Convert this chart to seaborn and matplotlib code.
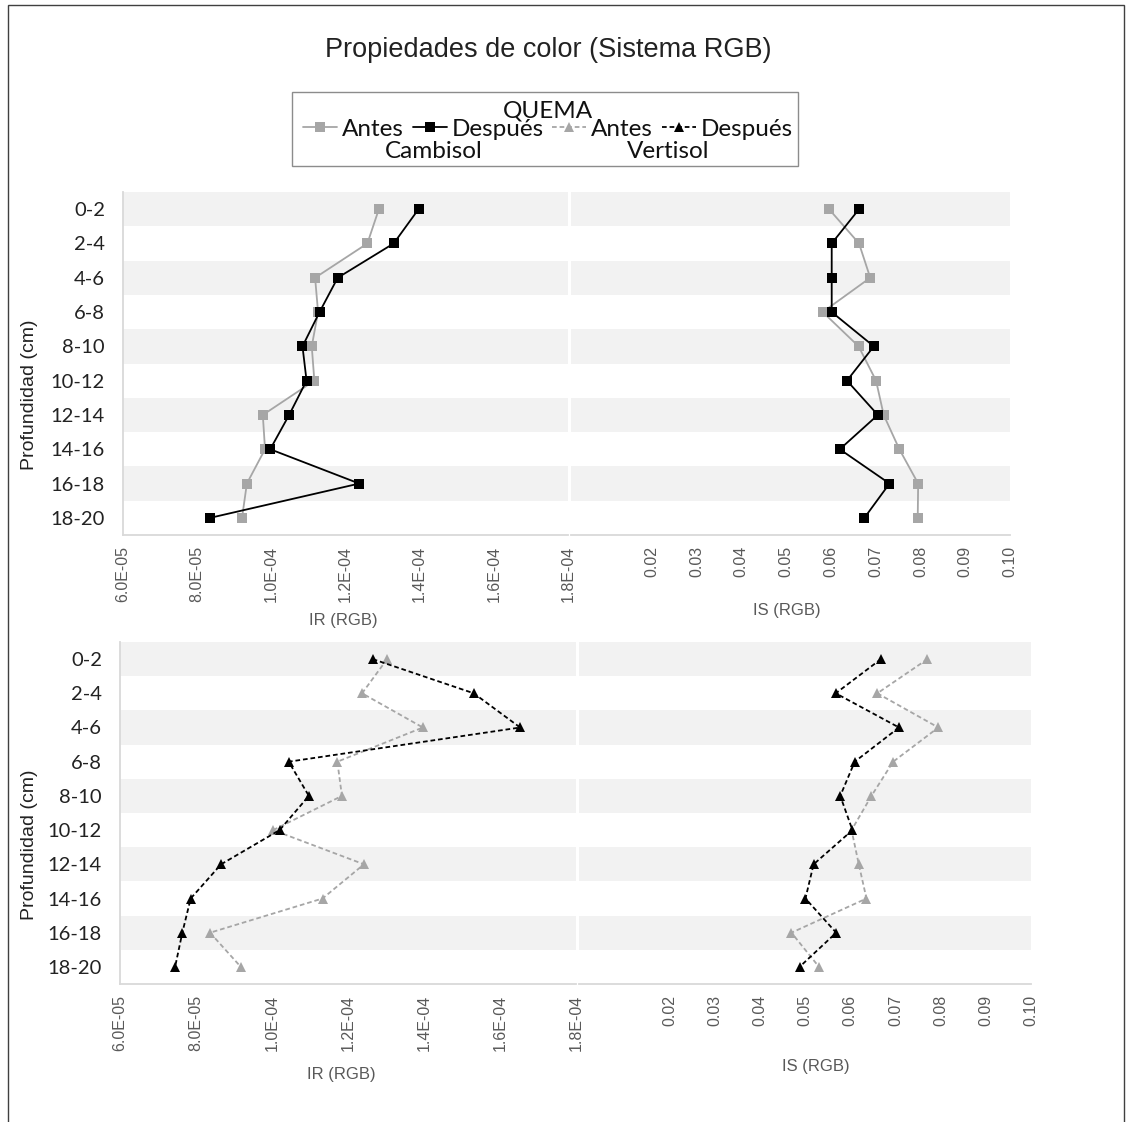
import numpy as np
import pandas as pd
import matplotlib
matplotlib.use("Agg")
import matplotlib.pyplot as plt
from matplotlib.lines import Line2D
from matplotlib.patches import Rectangle
import seaborn as sns

# Soil depth intervals (cm)
depths = ["0-2", "2-4", "4-6", "6-8", "8-10", "10-12", "12-14", "14-16", "16-18", "18-20"]

# Cambisol: redness index (IR) and saturation index (IS), before/after burning
ir_cambisol_antes = [1.290e-4, 1.259e-4, 1.118e-4, 1.126e-4, 1.109e-4, 1.116e-4, 0.977e-4, 0.983e-4, 0.934e-4, 0.921e-4]
ir_cambisol_despues = [1.397e-4, 1.330e-4, 1.179e-4, 1.130e-4, 1.084e-4, 1.095e-4, 1.048e-4, 0.997e-4, 1.237e-4, 0.835e-4]
is_cambisol_antes = [0.0596, 0.0663, 0.0688, 0.0582, 0.0662, 0.0701, 0.0718, 0.0753, 0.0795, 0.0794]
is_cambisol_despues = [0.0663, 0.0602, 0.0602, 0.0602, 0.0696, 0.0636, 0.0705, 0.0620, 0.0731, 0.0675]

# Vertisol: redness index (IR) and saturation index (IS), before/after burning
ir_vertisol_antes = [1.303e-4, 1.237e-4, 1.397e-4, 1.172e-4, 1.184e-4, 1.003e-4, 1.242e-4, 1.133e-4, 0.837e-4, 0.918e-4]
ir_vertisol_despues = [1.265e-4, 1.531e-4, 1.653e-4, 1.044e-4, 1.097e-4, 1.020e-4, 0.866e-4, 0.786e-4, 0.764e-4, 0.745e-4]
is_vertisol_antes = [0.0771, 0.0660, 0.0795, 0.0695, 0.0647, 0.0603, 0.0619, 0.0636, 0.0470, 0.0531]
is_vertisol_despues = [0.0668, 0.0568, 0.0708, 0.0610, 0.0578, 0.0605, 0.0519, 0.0501, 0.0569, 0.0488]

ir_ticks = [6e-5, 8e-5, 1.0e-4, 1.2e-4, 1.4e-4, 1.6e-4, 1.8e-4]
is_ticks = [0.02, 0.03, 0.04, 0.05, 0.06, 0.07, 0.08, 0.09, 0.10]

GRAY = "#a6a6a6"
BLACK = "#000000"
BAND = "#f2f2f2"
SPINE = "#d9d9d9"
TXT_GRAY = "#595959"

sns.set_style("white")
plt.rcParams["font.family"] = ["Liberation Sans", "DejaVu Sans"]

W, H = 1132, 1122
fig = plt.figure(figsize=(W / 100, H / 100), dpi=100)


def fx(px):
    return px / W


def fy(py):
    return 1 - py / H


def make_ax(x0, x1, y0, y1):
    return fig.add_axes([fx(x0), fy(y1), fx(x1 - x0), (y1 - y0) / H])


def draw_series(ax, values, color, marker, dashed, ms):
    df = pd.DataFrame({"Profundidad": depths, "valor": values})
    n_before = len(ax.lines)
    sns.pointplot(data=df, x="valor", y="Profundidad", order=depths, orient="y",
                  color=color, markers=marker, linestyles="-", errorbar=None,
                  ax=ax, markersize=ms, linewidth=1.3, markeredgewidth=0)
    for ln in ax.lines[n_before:]:
        if dashed:
            ln.set_dashes((2.6, 1.6))
        ln.set_markeredgewidth(0)


def style_ax(ax, left_spine, ticks, labels, xlim):
    for i in range(len(depths)):
        if i % 2 == 0:
            ax.axhspan(i - 0.5, i + 0.5, color=BAND, zorder=0, lw=0)
    ax.set_ylim(len(depths) - 0.5, -0.5)
    ax.set_xlim(*xlim)
    ax.set_xticks(ticks)
    ax.set_xticklabels(labels, rotation=90, color=TXT_GRAY, fontsize=11.5,
                       family=["Liberation Sans", "DejaVu Sans"])
    ax.tick_params(axis="x", length=0, pad=8)
    ax.set_xlabel("")
    ax.set_ylabel("")
    for s in ["top", "right"]:
        ax.spines[s].set_visible(False)
    ax.spines["bottom"].set_color(SPINE)
    ax.spines["bottom"].set_linewidth(1.3)
    if left_spine:
        ax.spines["left"].set_color(SPINE)
        ax.spines["left"].set_linewidth(1.3)
        ax.tick_params(axis="y", length=0, pad=13)
        for t in ax.get_yticklabels():
            t.set_fontfamily(["Lato", "DejaVu Sans"])
            t.set_fontsize(14.5)
            t.set_color("#222222")
    else:
        ax.spines["left"].set_visible(False)
        ax.set_yticklabels([])
        ax.tick_params(axis="y", length=0)
    ax.grid(False)


ir_labels = [f"{v:.1E}" for v in ir_ticks]
is_labels = [f"{v:.2f}" for v in is_ticks]

# Top row: Cambisol
ax1 = make_ax(123, 568, 192, 535)
ax2 = make_ax(571, 1010, 192, 535)
draw_series(ax1, ir_cambisol_antes, GRAY, "s", False, 6.8)
draw_series(ax1, ir_cambisol_despues, BLACK, "s", False, 6.8)
draw_series(ax2, is_cambisol_antes, GRAY, "s", False, 6.8)
draw_series(ax2, is_cambisol_despues, BLACK, "s", False, 6.8)
style_ax(ax1, True, ir_ticks, ir_labels, (6e-5, 1.8e-4))
style_ax(ax2, False, is_ticks, is_labels, (0.002, 0.10))

# Bottom row: Vertisol
ax3 = make_ax(120, 576, 642, 984)
ax4 = make_ax(579, 1031, 642, 984)
draw_series(ax3, ir_vertisol_antes, GRAY, "^", True, 6.8)
draw_series(ax3, ir_vertisol_despues, BLACK, "^", True, 6.8)
draw_series(ax4, is_vertisol_antes, GRAY, "^", True, 6.8)
draw_series(ax4, is_vertisol_despues, BLACK, "^", True, 6.8)
style_ax(ax3, True, ir_ticks, ir_labels, (6e-5, 1.8e-4))
style_ax(ax4, False, is_ticks, is_labels, (0.0, 0.10))

# Axis titles
narrow = ["Liberation Sans Narrow", "Liberation Sans", "DejaVu Sans"]
fig.text(fx(343), fy(620), "IR (RGB)", ha="center", va="center", fontsize=12, color=TXT_GRAY, family=narrow)
fig.text(fx(787), fy(610), "IS (RGB)", ha="center", va="center", fontsize=12, color=TXT_GRAY, family=narrow)
fig.text(fx(341), fy(1075), "IR (RGB)", ha="center", va="center", fontsize=12, color=TXT_GRAY, family=narrow)
fig.text(fx(816), fy(1067), "IS (RGB)", ha="center", va="center", fontsize=12, color=TXT_GRAY, family=narrow)
fig.text(fx(30), fy(395), "Profundidad (cm)", ha="center", va="center", rotation=90, fontsize=14, color="#222222")
fig.text(fx(30), fy(845), "Profundidad (cm)", ha="center", va="center", rotation=90, fontsize=14, color="#222222")

# Title
fig.text(fx(548), fy(50), "Propiedades de color (Sistema RGB)", ha="center", va="center", fontsize=19.5, color="#222222")

# Legend
handles = [
    Line2D([], [], color=GRAY, marker="s", markersize=6.8, lw=1.3, markeredgewidth=0),
    Line2D([], [], color=BLACK, marker="s", markersize=6.8, lw=1.3, markeredgewidth=0),
    Line2D([], [], color=GRAY, marker="^", markersize=6.8, lw=1.3, dashes=(2.6, 1.6), markeredgewidth=0),
    Line2D([], [], color=BLACK, marker="^", markersize=6.8, lw=1.3, dashes=(2.6, 1.6), markeredgewidth=0),
]
labels = ["Antes", "Después", "Antes", "Después"]
leg_font = {"family": ["Lato", "DejaVu Sans"], "size": 17.5}
leg = fig.legend(handles, labels, ncol=4, loc="center", bbox_to_anchor=(fx(548), fy(120)),
                 title="QUEMA", frameon=False, prop=leg_font, title_fontproperties=leg_font,
                 handlelength=1.4, handletextpad=0.2, columnspacing=0.35, borderpad=0,
                 labelspacing=-0.1)
for t in leg.get_texts():
    t.set_color("#111111")
leg.get_title().set_color("#111111")
fig.text(fx(434), fy(152), "Cambisol", ha="center", va="center", fontfamily=["Lato", "DejaVu Sans"], fontsize=17.5, color="#111111")
fig.text(fx(668), fy(152), "Vertisol", ha="center", va="center", fontfamily=["Lato", "DejaVu Sans"], fontsize=17.5, color="#111111")
fig.add_artist(Rectangle((fx(292), fy(166)), fx(798 - 292), (166 - 92) / H, transform=fig.transFigure,
                         fill=False, edgecolor="#8c8c8c", lw=1))

# Outer frame
fig.add_artist(Rectangle((fx(8), fy(1130)), fx(1124 - 8), (1130 - 5) / H, transform=fig.transFigure,
                         fill=False, edgecolor="#404040", lw=1))

fig.savefig("out.png", dpi=100)
